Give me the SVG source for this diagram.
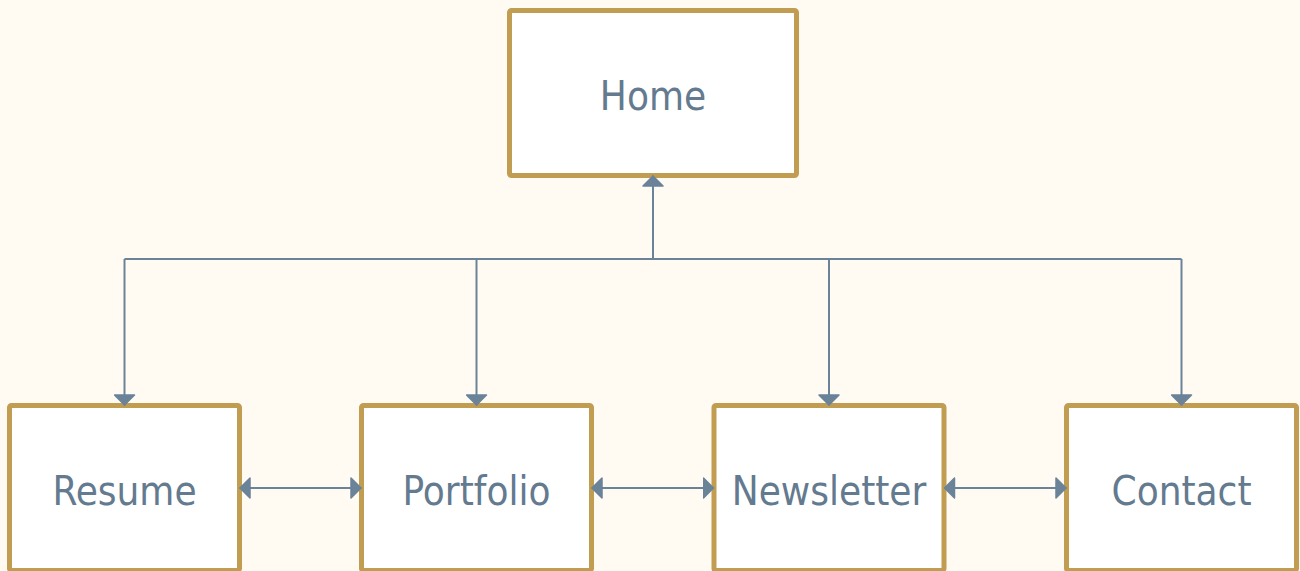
<svg xmlns="http://www.w3.org/2000/svg" width="1300" height="571" viewBox="0 0 1300 571">
<style>
.box{fill:#ffffff;stroke:#c19d52;stroke-width:5}
.lbl{font-family:"DejaVu Sans Condensed","DejaVu Sans",sans-serif;font-stretch:condensed;font-size:40px;fill:#637a8f;text-anchor:middle}
.con{fill:none;stroke:#6a8399;stroke-width:2}
</style>
<defs>
<marker id="ah" viewBox="0 0 12 22" refX="11.5" refY="11" markerWidth="12" markerHeight="22" markerUnits="userSpaceOnUse" orient="auto-start-reverse">
<path d="M1,1 L11,11 L1,21 z" fill="#6a8399" stroke="#6a8399" stroke-width="1.5" stroke-linejoin="round"/>
</marker>
</defs>
<rect width="1300" height="571" fill="#fffbf2"/>
<g id="home"><rect class="box" x="509.5" y="10.5" width="287" height="165" rx="2"/><text class="lbl" x="653" y="110">Home</text></g>
<g id="resume"><rect class="box" x="9.5" y="405.5" width="230" height="165" rx="2"/><text class="lbl" x="124.5" y="505">Resume</text></g>
<g id="portfolio"><rect class="box" x="361.5" y="405.5" width="230" height="165" rx="2"/><text class="lbl" x="476.5" y="505">Portfolio</text></g>
<g id="newsletter"><rect class="box" x="714" y="405.5" width="230" height="165" rx="2"/><text class="lbl" x="829" y="505">Newsletter</text></g>
<g id="contact"><rect class="box" x="1066.5" y="405.5" width="230" height="165" rx="2"/><text class="lbl" x="1181.5" y="505">Contact</text></g>
<g id="connectors">
<path class="con" d="M124.5,259 H1181.5"/>
<path class="con" d="M653,259 V175.5" marker-end="url(#ah)"/>
<path class="con" d="M124.5,259 V405.5" marker-end="url(#ah)"/>
<path class="con" d="M476.5,259 V405.5" marker-end="url(#ah)"/>
<path class="con" d="M829,259 V405.5" marker-end="url(#ah)"/>
<path class="con" d="M1181.5,259 V405.5" marker-end="url(#ah)"/>
<path class="con" d="M239.5,488 H361.5" marker-start="url(#ah)" marker-end="url(#ah)"/>
<path class="con" d="M591.5,488 H714" marker-start="url(#ah)" marker-end="url(#ah)"/>
<path class="con" d="M944,488 H1066.5" marker-start="url(#ah)" marker-end="url(#ah)"/>
</g>
</svg>
